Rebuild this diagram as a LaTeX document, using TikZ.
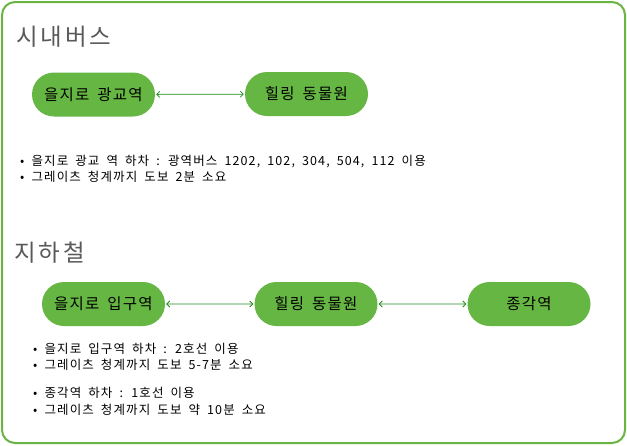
\documentclass[tikz,border=0pt]{standalone}
\usepackage{fontspec}
\setmainfont{Noto Sans CJK KR}
\newfontfamily\wideko[LetterSpace=9, WordSpace=1.8]{Noto Sans CJK KR}
\newfontfamily\headko[LetterSpace=12]{Noto Sans CJK KR}
\newfontfamily\stopko[LetterSpace=8, WordSpace=1.7]{Noto Sans CJK KR}
\usetikzlibrary{shapes.misc,arrows.meta}

\definecolor{framegreen}{HTML}{6AB443}
\definecolor{stopgreen}{HTML}{66B643}
\definecolor{linkgreen}{HTML}{228B22}
\definecolor{titlegray}{HTML}{595959}

\begin{document}
\begin{tikzpicture}[x=1pt, y=-1pt,
  stop/.style={rounded rectangle, fill=stopgreen, minimum width=123pt, minimum height=44pt,
    inner sep=0pt, font=\stopko\fontsize{15.5}{18}\selectfont},
  heading/.style={anchor=west, inner sep=0pt, text=titlegray, font=\headko\fontsize{23.5}{26}\selectfont},
  notes/.style={anchor=north west, inner sep=0pt, align=left, font=\wideko\fontsize{12.5}{16.5}\selectfont},
  link/.style={linkgreen, line width=0.8pt, shorten <=1pt, shorten >=1pt,
    {Straight Barb[length=3pt,width=6pt]}-{Straight Barb[length=3pt,width=6pt]}}]

  \useasboundingbox (0,0) rectangle (627,445);
  \draw[framegreen, line width=2pt, rounded corners=13pt] (2,2) rectangle (625,443);

  % city bus
  \node[heading] (bustitle) at (16,37) {시내버스};

  \node[stop] (busfrom) at (93.5,94.5) {을지로 광교역};
  \node[stop] (busto) at (306.5,94) {힐링 동물원};
  \draw[link] (busfrom) -- (busto);

  \node[notes] (busnotes) at (20,154.5) {• 을지로 광교 역 하차 : 광역버스 1202, 102, 304, 504, 112 이용\\
    • 그레이츠 청계까지 도보 2분 소요};

  % subway
  \node[heading] (subtitle) at (14,253) {지하철};

  \node[stop] (subfrom) at (103.5,304) {을지로 입구역};
  \node[stop] (submid) at (316,304) {힐링 동물원};
  \node[stop] (subto) at (529,304) {종각역};
  \draw[link] (subfrom) -- (submid);
  \draw[link] (submid) -- (subto);

  \node[notes] (subnotesa) at (33,342.5) {• 을지로 입구역 하차 : 2호선 이용\\
    • 그레이츠 청계까지 도보 5-7분 소요};
  \node[notes] (subnotesb) at (33,387) {• 종각역 하차 : 1호선 이용\\
    • 그레이츠 청계까지 도보 약 10분 소요};

\end{tikzpicture}
\end{document}
